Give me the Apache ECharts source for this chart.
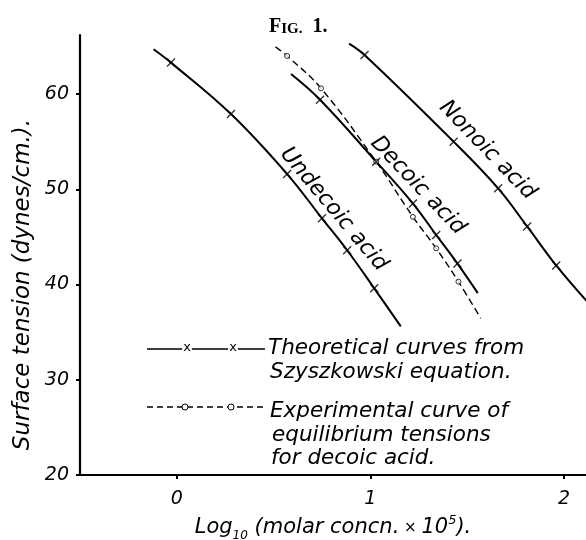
<!DOCTYPE html>
<html>
<head>
<meta charset="utf-8">
<title>Fig. 1</title>
<script src="https://cdn.jsdelivr.net/npm/echarts@6/dist/echarts.min.js"></script>
<style>
  html, body { margin: 0; padding: 0; background: #fff; }
  #main { width: 586px; height: 540px; }
</style>
</head>
<body>
<div id="main"></div>
<script>
// curves: [log10 conc, surface tension]
var undecoicCurve = [[-0.12, 64.7], [-0.03, 63.3], [0.28, 57.9], [0.57, 51.6], [0.75, 46.95], [0.88, 43.6], [1.02, 39.6], [1.157, 35.6]];
var undecoicPts   = [[-0.03, 63.3], [0.28, 57.9], [0.57, 51.6], [0.75, 46.95], [0.88, 43.6], [1.02, 39.6]];

var decoicCurve = [[0.59, 62.1], [0.74, 59.4], [1.03, 52.9], [1.22, 48.5], [1.34, 45.2], [1.45, 42.2], [1.555, 39.1]];
var decoicPts   = [[0.74, 59.4], [1.03, 52.9], [1.22, 48.5], [1.34, 45.2], [1.45, 42.2]];

var nonoicCurve = [[0.89, 65.3], [0.97, 64.1], [1.43, 55.0], [1.66, 50.1], [1.81, 46.1], [1.96, 42.0], [2.12, 38.2]];
var nonoicPts   = [[0.97, 64.1], [1.43, 55.0], [1.66, 50.1], [1.81, 46.1], [1.96, 42.0]];

// experimental (dashed) decoic curve
var expCurve = [[0.51, 64.95], [0.57, 64.0], [0.745, 60.6], [1.03, 52.9], [1.22, 47.1], [1.34, 43.8], [1.455, 40.3], [1.57, 36.45]];
var expPts   = [[0.57, 64.0], [0.745, 60.6], [1.03, 52.9], [1.22, 47.1], [1.34, 43.8], [1.455, 40.3]];

var xTicks = [0, 1, 2];
var yTicks = [20, 30, 40, 50, 60];
var curveNames = ['Undecoic acid', 'Decoic acid', 'Nonoic acid'];
var legendText1 = ['Theoretical curves from', 'Szyszkowski equation.'];
var legendText2 = ['Experimental curve of', 'equilibrium tensions', 'for decoic acid.'];

var FONT = '"DejaVu Sans", sans-serif';
var CROSS = 'path://M0,0L10,10M10,0L0,10';

var myChart = echarts.init(document.getElementById('main'));

function solid(data) {
    return { type: 'line', data: data, smooth: 0.4, showSymbol: false, silent: true,
             lineStyle: { color: '#000', width: 2 }, z: 3 };
}
function crosses(data) {
    return { type: 'scatter', data: data, symbol: CROSS, symbolSize: 8, silent: true,
             itemStyle: { color: 'none', borderColor: '#000', borderWidth: 1.4 }, z: 5 };
}

var option = {
    animation: false,
    backgroundColor: '#fff',
    title: {
        text: '{a|F}{b|IG.}{a|  1.}',
        left: 264, top: 12,
        textStyle: {
            rich: {
                a: { fontFamily: '"Liberation Serif", serif', fontSize: 20, lineHeight: 20, verticalAlign: 'bottom', color: '#000' },
                b: { fontFamily: '"Liberation Serif", serif', fontSize: 15, lineHeight: 15, verticalAlign: 'bottom', color: '#000' }
            }
        }
    },
    grid: { left: 80, right: 0, top: 35, bottom: 65, outerBoundsMode: 'none', containLabel: false },
    xAxis: {
        type: 'value', min: -0.5, max: 2.114,
        axisLine: { onZero: false, lineStyle: { color: '#000', width: 2.2 } },
        axisTick: { customValues: xTicks, length: 4, lineStyle: { color: '#000', width: 2 } },
        axisLabel: { customValues: xTicks, margin: 15, color: '#000', fontSize: 19, fontStyle: 'italic', fontFamily: FONT },
        splitLine: { show: false },
        name: '{a|Log}{s|10}{a| (molar concn.}{x| × }{a|10}{p|5}{a|).}',
        nameLocation: 'middle', nameGap: 31,
        nameTextStyle: {
            rich: {
                a: { fontSize: 21, fontStyle: 'italic', fontFamily: FONT, color: '#000', lineHeight: 28 },
                x: { fontSize: 15, fontFamily: FONT, color: '#000', lineHeight: 28 },
                s: { fontSize: 12, fontStyle: 'italic', fontFamily: FONT, color: '#000', lineHeight: 12, verticalAlign: 'bottom' },
                p: { fontSize: 13, fontStyle: 'italic', fontFamily: FONT, color: '#000', lineHeight: 13, verticalAlign: 'top' }
            }
        }
    },
    yAxis: {
        type: 'value', min: 20, max: 66.2,
        axisLine: { show: true, onZero: false, lineStyle: { color: '#000', width: 2.2 } },
        axisTick: { show: true, customValues: yTicks, length: 4, lineStyle: { color: '#000', width: 2 } },
        axisLabel: { customValues: yTicks, margin: 11, color: '#000', fontSize: 19, fontStyle: 'italic', fontFamily: FONT },
        splitLine: { show: false }
    },
    series: [
        solid(undecoicCurve), crosses(undecoicPts),
        solid(decoicCurve), crosses(decoicPts),
        solid(nonoicCurve), crosses(nonoicPts),
        {
            type: 'line', data: expCurve, smooth: 0.4, showSymbol: false, silent: true,
            lineStyle: { color: '#000', width: 1.4, type: [7, 4] }, z: 3
        },
        {
            type: 'scatter', data: expPts, symbol: 'circle', symbolSize: 5, silent: true,
            itemStyle: { color: '#fff', borderColor: '#000', borderWidth: 1 }, z: 4
        }
    ]
};
myChart.setOption(option);

// text drawn on top, anchored through the axes
function px(x, y) { return myChart.convertToPixel({ gridIndex: 0 }, [x, y]); }
function txt(str, p, rot, size) {
    return {
        type: 'text', x: p[0], y: p[1], rotation: rot || 0, silent: true, z: 10,
        style: { text: str, fill: '#000', font: 'italic ' + (size || 21) + 'px ' + FONT,
                 align: 'center', verticalAlign: 'middle' }
    };
}
function left(str, x, y) {
    var t = txt(str, [x, y], 0, 21.5);
    t.style.align = 'left';
    return t;
}
var deg = Math.PI / 180;
var g = [];
var yMid = px(0, 40);
g.push(txt('Surface tension (dynes/cm.).', [23, yMid[1]], Math.PI / 2, 23));
g.push(txt(curveNames[0], px(0.81, 47.9), -50 * deg, 22));
g.push(txt(curveNames[1], px(1.245, 50.4), -46.5 * deg, 22));
g.push(txt(curveNames[2], px(1.605, 54.1), -46 * deg, 22));

// key
g.push({ type: 'line', silent: true, shape: { x1: 147, y1: 349, x2: 265, y2: 349 },
         style: { stroke: '#000', lineWidth: 1.5 } });
g.push({ type: 'line', silent: true, shape: { x1: 147, y1: 407, x2: 265, y2: 407 },
         style: { stroke: '#000', lineWidth: 1.3, lineDash: [6, 4] } });
[187, 233].forEach(function (x) {
    g.push({ type: 'text', x: x, y: 348, silent: true, z: 11,
             style: { text: 'x', fill: '#000', font: '13px ' + FONT, align: 'center', verticalAlign: 'middle',
                      backgroundColor: '#fff', padding: [0, 1] } });
    g.push({ type: 'circle', silent: true, z: 11, shape: { cx: x - 2, cy: 407, r: 3 },
             style: { fill: '#fff', stroke: '#000', lineWidth: 1 } });
});
g.push(left(legendText1[0], 268, 348));
g.push(left(legendText1[1], 270, 372));
g.push(left(legendText2[0], 270, 411));
g.push(left(legendText2[1], 272, 435));
g.push(left(legendText2[2], 271, 458));

myChart.setOption({ graphic: g });
</script>
</body>
</html>
